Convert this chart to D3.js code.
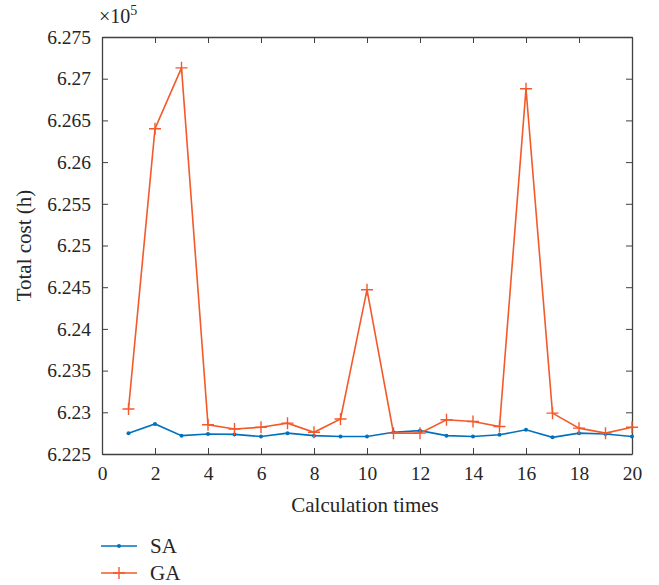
<!DOCTYPE html>
<html>
<head>
<meta charset="utf-8">
<script src="https://cdn.jsdelivr.net/npm/d3@7"></script>
<style>
  body { margin: 0; background: #fff; }
  text { font-family: "Liberation Serif", "DejaVu Serif", serif; fill: #262626; }
</style>
</head>
<body>
<div id="chart"></div>
<script>
// data (values in units of 10^5 h)
var runs = d3.range(1, 21);
var saCost = [6.2275, 6.2286, 6.2272, 6.2274, 6.22735, 6.2271, 6.2275, 6.2272, 6.2271, 6.2271,
              6.2276, 6.2278, 6.2272, 6.2271, 6.2273, 6.2279, 6.2270, 6.2275, 6.2274, 6.2271];
var gaCost = [6.2304, 6.2640, 6.2713, 6.2285, 6.2280, 6.2282, 6.2287, 6.2276, 6.2292, 6.2447,
              6.2275, 6.2275, 6.2291, 6.2289, 6.2283, 6.2688, 6.2299, 6.2281, 6.2275, 6.2282];
var xTicks = d3.range(0, 21, 2);
var yTicks = [6.225, 6.23, 6.235, 6.24, 6.245, 6.25, 6.255, 6.26, 6.265, 6.27, 6.275];
var seriesNames = ["SA", "GA"];
var colors = ["#0072BD", "#F4592A"];

var W = 659, H = 585;
var margin = {top: 37, right: 27, bottom: 131, left: 102},
    width = W - margin.left - margin.right,
    height = H - margin.top - margin.bottom;

var svg = d3.select("#chart")
  .append("svg")
    .attr("width", W)
    .attr("height", H)
  .append("g")
    .attr("transform", "translate(" + margin.left + "," + margin.top + ")");

var x = d3.scaleLinear().domain([0, 20]).range([0, width]);
var y = d3.scaleLinear().domain([6.225, 6.275]).range([height, 0]);

var axisColor = "#404040";

// axes with inward ticks (box on)
var gx = svg.append("g")
  .attr("transform", "translate(0," + height + ")")
  .call(d3.axisBottom(x).tickValues(xTicks).tickSizeInner(-6).tickSizeOuter(0).tickPadding(12));
var gy = svg.append("g")
  .call(d3.axisLeft(y).tickValues(yTicks).tickSizeInner(-6).tickSizeOuter(0).tickPadding(11)
    .tickFormat(function(d) { return d3.format("")(+d.toFixed(3)); }));
var gxt = svg.append("g")
  .call(d3.axisTop(x).tickValues(xTicks).tickSizeInner(-6).tickSizeOuter(0).tickFormat(""));
var gyr = svg.append("g")
  .attr("transform", "translate(" + width + ",0)")
  .call(d3.axisRight(y).tickValues(yTicks).tickSizeInner(-6).tickSizeOuter(0).tickFormat(""));

[gx, gy, gxt, gyr].forEach(function(g) {
  g.selectAll("path").attr("stroke", axisColor).attr("stroke-width", 1.3);
  g.selectAll("line").attr("stroke", axisColor).attr("stroke-width", 1);
  g.selectAll("text").style("font-size", "19.5px").attr("fill", "#262626");
});

// exponent label
var ex = svg.append("text").attr("x", -3).attr("y", -14).style("font-size", "20px");
ex.append("tspan").text("\u00d710");
ex.append("tspan").attr("dy", -8).style("font-size", "14px").text("5");

// axis titles
svg.append("text")
  .attr("x", width / 2 - 2).attr("y", height + 58)
  .attr("text-anchor", "middle").style("font-size", "21px")
  .text("Calculation times");
svg.append("text")
  .attr("transform", "translate(" + (-71) + "," + (height / 2) + ") rotate(-90)")
  .attr("text-anchor", "middle").style("font-size", "21px")
  .text("Total cost (h)");

var line = d3.line()
  .x(function(d, i) { return x(runs[i]); })
  .y(function(d) { return y(d); });

// SA
svg.append("path").datum(saCost)
  .attr("fill", "none").attr("stroke", colors[0]).attr("stroke-width", 1.6)
  .attr("d", line);
svg.selectAll(".sa").data(saCost).enter().append("circle")
  .attr("class", "sa")
  .attr("cx", function(d, i) { return x(runs[i]); })
  .attr("cy", function(d) { return y(d); })
  .attr("r", 2).attr("fill", colors[0]);

// GA
svg.append("path").datum(gaCost)
  .attr("fill", "none").attr("stroke", colors[1]).attr("stroke-width", 1.6)
  .attr("d", line);
var plus = "M-6,0H6M0,-6V6";
svg.selectAll(".ga").data(gaCost).enter().append("path")
  .attr("class", "ga")
  .attr("transform", function(d, i) { return "translate(" + x(runs[i]) + "," + y(d) + ")"; })
  .attr("d", plus)
  .attr("stroke", colors[1]).attr("stroke-width", 1.4).attr("fill", "none");

// legend
var legend = svg.append("g").attr("transform", "translate(0," + (height + 92) + ")");
seriesNames.forEach(function(name, i) {
  var ly = i * 27;
  legend.append("line")
    .attr("x1", -1).attr("x2", 35).attr("y1", ly).attr("y2", ly)
    .attr("stroke", colors[i]).attr("stroke-width", 1.6);
  if (i === 0) {
    legend.append("circle").attr("cx", 17).attr("cy", ly).attr("r", 2).attr("fill", colors[i]);
  } else {
    legend.append("path").attr("transform", "translate(17," + ly + ")").attr("d", plus)
      .attr("stroke", colors[i]).attr("stroke-width", 1.4);
  }
  legend.append("text")
    .attr("x", 48).attr("y", ly).attr("dy", "0.35em")
    .style("font-size", "21px")
    .text(name);
});
</script>
</body>
</html>
